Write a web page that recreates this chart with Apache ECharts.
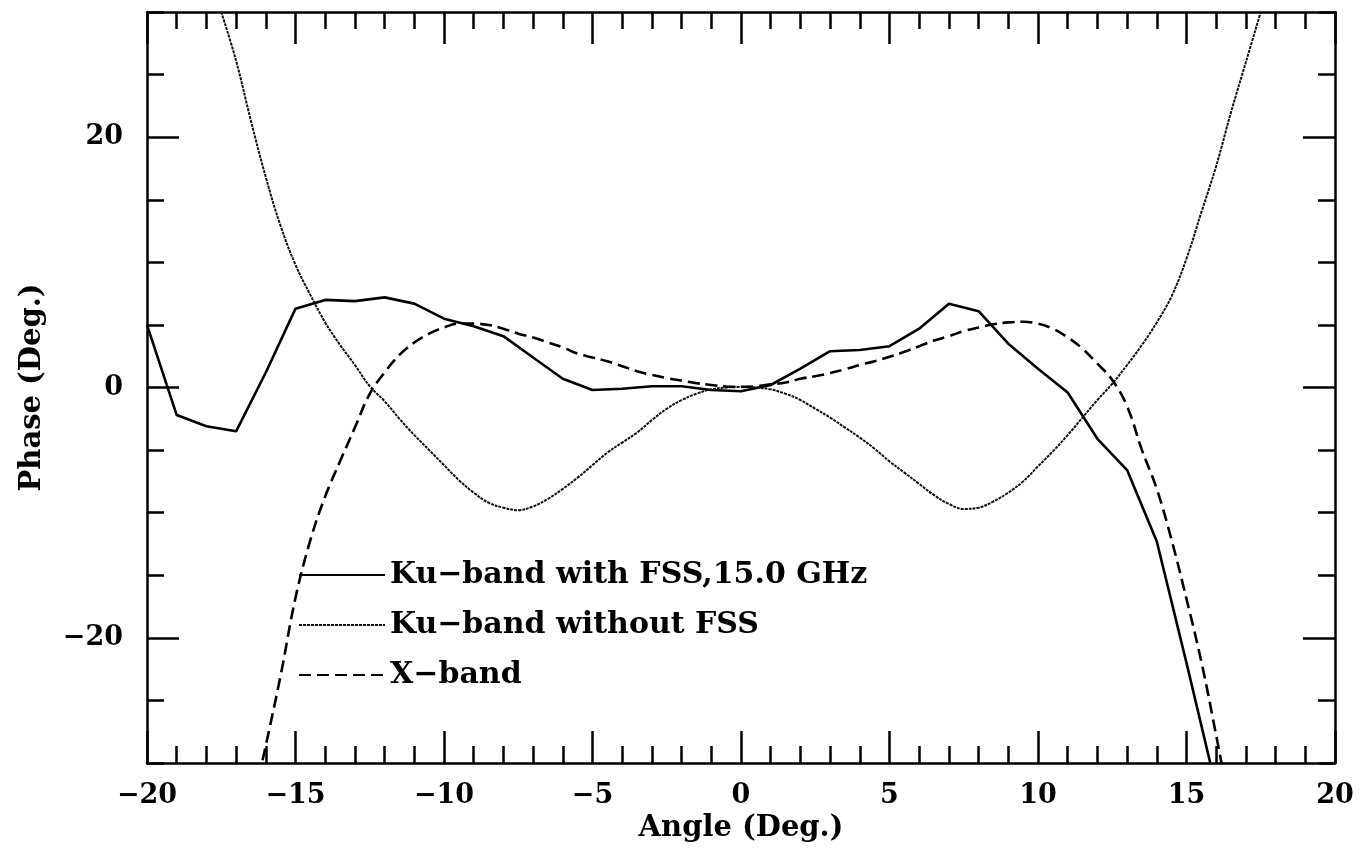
<!DOCTYPE html>
<html><head><meta charset="utf-8">
<script src="https://cdn.jsdelivr.net/npm/echarts@6/dist/echarts.min.js"></script>
<style>html,body{margin:0;padding:0;background:#fff}#c{width:1372px;height:849px}</style>
</head><body><div id="c"></div>
<script>
// ---- data ----
const seriesNames = ['Ku\u2212band with FSS,15.0 GHz', 'Ku\u2212band without FSS', 'X\u2212band'];

const kuFssAngle = [-20,-19,-18,-17,-16,-15,-14,-13,-12,-11,-10,-9,-8,-7,-6,-5,-4,-3,-2,-1,0,1,2,3,4,5,6,7,8,9,10,11,12,13,14,15,16];
const kuFssPhase = [5.0,-2.2,-3.1,-3.5,1.2,6.3,7.0,6.9,7.2,6.7,5.5,4.9,4.1,2.4,0.7,-0.2,-0.1,0.1,0.1,-0.2,-0.3,0.2,1.5,2.9,3.0,3.3,4.7,6.7,6.1,3.5,1.5,-0.4,-4.1,-6.6,-12.3,-22.0,-32.0];

const kuNoFssAngle = [-17.5,-17,-16.5,-16,-15.5,-15,-14.5,-14,-13.5,-13,-12.5,-12,-11.5,-11,-10.5,-10,-9.5,-9,-8.5,-8,-7.5,-7,-6.5,-6,-5.5,-5,-4.5,-4,-3.5,-3,-2.5,-2,-1.5,-1,-0.5,0,0.5,1,1.5,2,2.5,3,3.5,4,4.5,5,5.5,6,6.5,7,7.5,8,8.5,9,9.5,10,10.5,11,11.5,12,12.5,13,13.5,14,14.5,15,15.5,16,16.5,17,17.5];
const kuNoFssPhase = [30.0,26.1,21.3,16.8,12.9,9.8,7.4,5.2,3.4,1.8,0.1,-1.1,-2.5,-3.8,-5.0,-6.2,-7.4,-8.4,-9.2,-9.6,-9.8,-9.5,-8.9,-8.1,-7.2,-6.2,-5.2,-4.4,-3.6,-2.6,-1.7,-1.0,-0.5,-0.15,0.0,0.05,0.0,-0.15,-0.5,-1.0,-1.7,-2.4,-3.2,-4.0,-4.9,-5.9,-6.8,-7.7,-8.6,-9.3,-9.7,-9.6,-9.1,-8.4,-7.5,-6.3,-5.1,-3.8,-2.4,-1.0,0.3,1.8,3.4,5.2,7.3,10.3,14.0,17.7,22.0,26.0,30.0];

const xBandAngle = [-16.5,-16,-15.5,-15,-14.5,-14,-13.5,-13,-12.5,-12,-11.5,-11,-10.5,-10,-9.5,-9,-8.5,-8,-7.5,-7,-6.5,-6,-5.5,-5,-4.5,-4,-3.5,-3,-2.5,-2,-1.5,-1,-0.5,0,0.5,1,1.5,2,2.5,3,3.5,4,4.5,5,5.5,6,6.5,7,7.5,8,8.5,9,9.5,10,10.5,11,11.5,12,12.5,13,13.5,14,14.5,15,15.5,16,16.5];
const xBandPhase = [-34.0,-28.6,-23.0,-16.8,-12.2,-8.7,-5.9,-3.2,-0.5,1.2,2.6,3.6,4.3,4.8,5.1,5.1,5.0,4.7,4.3,4.0,3.6,3.2,2.7,2.4,2.1,1.7,1.3,1.0,0.75,0.55,0.35,0.2,0.08,0.05,0.1,0.25,0.4,0.7,0.9,1.15,1.45,1.8,2.1,2.45,2.85,3.3,3.75,4.1,4.5,4.8,5.05,5.2,5.25,5.1,4.7,4.0,3.1,1.9,0.6,-1.5,-5.0,-8.1,-12.2,-16.9,-21.9,-27.8,-34.0];

const yLabelValues = [-20, 0, 20];
const xTitle = 'Angle (Deg.)';
const yTitle = 'Phase (Deg.)';

// ---- build ----
const FONT = 'DejaVu Serif';
const pairs = (xs, ys) => xs.map((x, i) => [x, ys[i]]);
const black = '#000';
const fmt = v => (v < 0 ? '\u2212' + Math.abs(v) : String(v));

const tickStyle = { color: black, width: 2.5 };
const xBase = {
  type: 'value', min: -20, max: 20, interval: 5,
  axisLine: { show: true, onZero: false, lineStyle: { color: black, width: 2.5 } },
  axisTick: { show: true, inside: true, length: 32, lineStyle: tickStyle },
  minorTick: { show: true, splitNumber: 5, length: 17, lineStyle: tickStyle },
  splitLine: { show: false }
};
const yBase = {
  type: 'value', min: -30, max: 30, interval: 5,
  axisLine: { show: true, onZero: false, lineStyle: { color: black, width: 2.5 } },
  axisTick: { show: true, inside: true, length: 17, lineStyle: tickStyle },
  axisLabel: { show: false },
  splitLine: { show: false }
};

const option = {
  backgroundColor: '#fff',
  animation: false,
  grid: { left: 147, right: 37, top: 12, bottom: 86, containLabel: false },
  xAxis: [
    Object.assign({}, xBase, {
      position: 'bottom',
      name: xTitle, nameLocation: 'middle', nameGap: 42,
      nameTextStyle: { fontFamily: FONT, fontWeight: 'bold', fontSize: 29, color: black },
      axisLabel: { show: true, margin: 19, fontFamily: FONT, fontWeight: 'bold', fontSize: 27, color: black, formatter: fmt }
    }),
    Object.assign({}, xBase, { position: 'top', axisLabel: { show: false } })
  ],
  yAxis: [
    Object.assign({}, yBase, {
      position: 'left',
      name: yTitle, nameLocation: 'middle', nameGap: 100,
      nameTextStyle: { fontFamily: FONT, fontWeight: 'bold', fontSize: 29, color: black },
      axisLabel: { show: true, customValues: yLabelValues, margin: 24, fontFamily: FONT, fontWeight: 'bold', fontSize: 27, color: black, formatter: fmt }
    }),
    Object.assign({}, yBase, {
      position: 'left', axisLine: { show: false, onZero: false },
      axisTick: { show: true, inside: true, length: 32, customValues: yLabelValues, lineStyle: tickStyle }
    }),
    Object.assign({}, yBase, { position: 'right' }),
    Object.assign({}, yBase, {
      position: 'right', axisLine: { show: false, onZero: false },
      axisTick: { show: true, inside: true, length: 32, customValues: yLabelValues, lineStyle: tickStyle }
    })
  ],
  legend: {
    orient: 'vertical', left: 298, top: 560, padding: 0, itemWidth: 86, itemHeight: 14, itemGap: 20,
    itemStyle: { opacity: 0 },
    textStyle: { fontFamily: FONT, fontWeight: 'bold', fontSize: 30, color: black },
    data: seriesNames
  },
  series: [
    { name: seriesNames[0], type: 'line', xAxisIndex: 0, yAxisIndex: 0, data: pairs(kuFssAngle, kuFssPhase),
      showSymbol: false, symbol: 'none', smooth: false, clip: true,
      itemStyle: { color: black },
      lineStyle: { color: black, width: 2.6, type: 'solid' } },
    { name: seriesNames[1], type: 'line', xAxisIndex: 0, yAxisIndex: 0, data: pairs(kuNoFssAngle, kuNoFssPhase),
      showSymbol: false, symbol: 'none', smooth: 0.4, clip: true,
      itemStyle: { color: black },
      lineStyle: { color: '#111', width: 2, type: [3, 1] } },
    { name: seriesNames[2], type: 'line', xAxisIndex: 0, yAxisIndex: 0, data: pairs(xBandAngle, xBandPhase),
      showSymbol: false, symbol: 'none', smooth: 0.4, clip: true,
      itemStyle: { color: black },
      lineStyle: { color: black, width: 2.6, type: [12, 6] } }
  ]
};

const chart = echarts.init(document.getElementById('c'), null, { renderer: 'canvas' });
chart.setOption(option);
</script>
</body></html>
